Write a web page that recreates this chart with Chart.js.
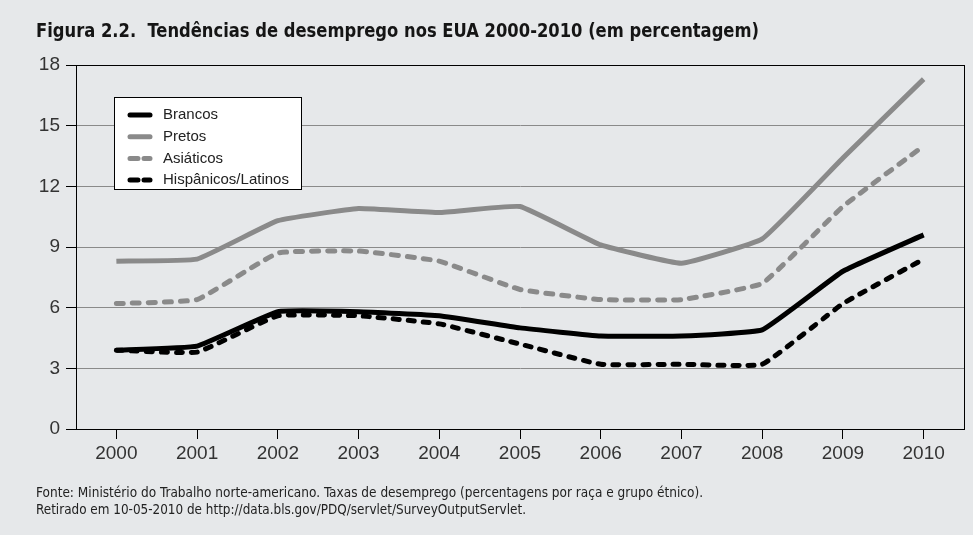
<!DOCTYPE html>
<html><head><meta charset="utf-8">
<script src="https://cdn.jsdelivr.net/npm/chart.js@4"></script>
<style>
html,body{margin:0;padding:0;background:#e6e8ea;}
#wrap{position:relative;width:973px;height:535px;background:#e6e8ea;overflow:hidden}
#c{position:absolute;left:0;top:0}
#title{position:absolute;left:36px;top:18px;font:bold 20px "DejaVu Sans Condensed","DejaVu Sans",sans-serif;color:#151515;white-space:nowrap;transform-origin:0 50%}
.note{position:absolute;left:36px;font:14px "DejaVu Sans Condensed","DejaVu Sans",sans-serif;color:#222;white-space:nowrap;transform-origin:0 50%}
</style></head>
<body>
<div id="wrap">
<canvas id="c" width="973" height="535"></canvas>
<div id="title" data-w="723">Figura 2.2.&nbsp; Tendências de desemprego nos EUA 2000-2010 (em percentagem)</div>
<div class="note" data-w="667" style="top:484px">Fonte: Ministério do Trabalho norte-americano. Taxas de desemprego (percentagens por raça e grupo étnico).</div>
<div class="note" data-w="490" style="top:501px">Retirado em 10-05-2010 de http://data.bls.gov/PDQ/servlet/SurveyOutputServlet.</div>
</div>
<script>
document.querySelectorAll('[data-w]').forEach(el => {
  const w = el.getBoundingClientRect().width;
  el.style.transform = 'scaleX(' + (parseFloat(el.dataset.w) / w) + ')';
});

const categories = ['2000','2001','2002','2003','2004','2005','2006','2007','2008','2009','2010'];
const brancos    = [3.9, 4.1, 5.8, 5.8, 5.6, 5.0, 4.6, 4.6, 4.9, 7.8, 9.6];
const pretos     = [8.3, 8.4, 10.3, 10.9, 10.7, 11.0, 9.1, 8.2, 9.4, 13.4, 17.3];
const asiaticos  = [6.2, 6.4, 8.7, 8.8, 8.3, 6.9, 6.4, 6.4, 7.2, 11.0, 14.0];
const hispanicos = [3.9, 3.8, 5.6, 5.6, 5.2, 4.2, 3.2, 3.2, 3.2, 6.2, 8.4];
const yTicks = [0, 3, 6, 9, 12, 15, 18];

const GRAY = '#8a8a8a';
const tickFont = {family: '"Liberation Sans", Arial, sans-serif', size: 19};

const frame = {
  id: 'frame',
  afterDraw(chart) {
    const a = chart.chartArea, ctx = chart.ctx;
    ctx.save();
    ctx.strokeStyle = '#000'; ctx.lineWidth = 1;
    ctx.strokeRect(Math.round(a.left) + 0.5, Math.round(a.top) + 0.5, Math.round(a.right - a.left), Math.round(a.bottom - a.top));
    ctx.restore();
  }
};

const boxLegend = {
  id: 'boxLegend',
  afterDatasetsDraw(chart) {
    const ctx = chart.ctx;
    const x0 = 114, y0 = 97, w = 187, h = 92;
    ctx.save();
    ctx.fillStyle = '#fff';
    ctx.fillRect(x0, y0, w, h);
    ctx.strokeStyle = '#000'; ctx.lineWidth = 1;
    ctx.strokeRect(x0 + 0.5, y0 + 0.5, w, h);
    chart.data.datasets.forEach((ds, i) => {
      const y = 115 + i * 21.7;
      ctx.strokeStyle = ds.borderColor;
      ctx.lineWidth = 5;
      ctx.lineCap = 'round';
      ctx.setLineDash(ds.borderDash && ds.borderDash.length ? [8, 6] : []);
      ctx.beginPath(); ctx.moveTo(130, y); ctx.lineTo(150, y); ctx.stroke();
      ctx.setLineDash([]);
      ctx.fillStyle = '#222';
      ctx.font = '15px "Liberation Sans", Arial, sans-serif';
      ctx.textBaseline = 'middle';
      ctx.fillText(ds.label, 163, y);
    });
    ctx.restore();
  }
};

new Chart(document.getElementById('c'), {
  type: 'line',
  data: {
    labels: categories,
    datasets: [
      {label: 'Brancos', data: brancos, borderColor: '#000', borderWidth: 5, borderDash: []},
      {label: 'Pretos', data: pretos, borderColor: GRAY, borderWidth: 5, borderDash: []},
      {label: 'Asiáticos', data: asiaticos, borderColor: GRAY, borderWidth: 5, borderDash: [7, 9], borderCapStyle: 'round'},
      {label: 'Hispânicos/Latinos', data: hispanicos, borderColor: '#000', borderWidth: 5, borderDash: [6, 9], borderCapStyle: 'round'}
    ]
  },
  options: {
    responsive: false,
    animation: false,
    devicePixelRatio: 1,
    layout: {padding: {top: 65, right: 9, bottom: 76, left: 0}},
    elements: {point: {radius: 0}, line: {tension: 0.1, borderJoinStyle: 'round'}},
    plugins: {legend: {display: false}, tooltip: {enabled: false}, title: {display: false}},
    scales: {
      x: {
        type: 'category',
        offset: true,
        afterFit(s) { s.height = 30; },
        grid: {display: true, drawOnChartArea: false, drawTicks: true, tickLength: 10, tickColor: '#000', tickWidth: 1},
        border: {color: '#000', width: 1},
        ticks: {font: tickFont, color: '#333', padding: 3, maxRotation: 0, autoSkip: false}
      },
      y: {
        min: yTicks[0], max: yTicks[yTicks.length - 1],
        afterFit(s) { s.width = 76; },
        afterBuildTicks(s) { s.ticks = yTicks.map(v => ({value: v})); },
        grid: {color: GRAY, lineWidth: 1, tickColor: '#000', tickLength: 10, drawTicks: true},
        border: {color: '#000', width: 1},
        ticks: {font: tickFont, color: '#333', padding: 6}
      }
    }
  },
  plugins: [frame, boxLegend]
});
</script>
</body></html>
